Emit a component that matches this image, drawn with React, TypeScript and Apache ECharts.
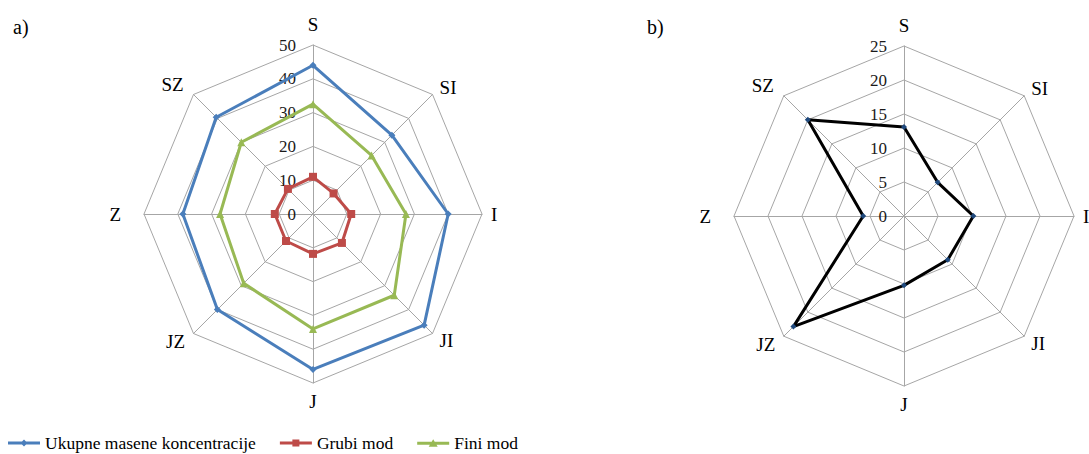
import React, { useEffect, useRef } from "react";
import * as echarts from "echarts";

// Indicators listed counter-clockwise from the top (ECharts radar order)
const directions = ["S", "SZ", "Z", "JZ", "J", "JI", "I", "SI"];
const leftTicksMax = 50;
const rightTicksMax = 25;

// Left chart (a) values, same order as directions
const ukupne = [44, 40.5, 38.5, 40, 46, 46.5, 40, 33];
const grubi = [11, 10.5, 11.3, 11.3, 11.8, 12.1, 11.3, 8.6];
const fini = [32.5, 30, 27.5, 29, 34, 34, 27.5, 24.5];

// Right chart (b) values
const desno = [13.1, 20, 6, 23, 10.2, 9.1, 10.2, 7];

const seriesNames = ["Ukupne masene koncentracije", "Grubi mod", "Fini mod"];

const FONT = "'Liberation Serif', 'Times New Roman', serif";

// name gaps per direction (label placement)
const nameGaps = [11, 14, 23, 12, 9, 10, 9, 10];

export default function App() {
  const ref = useRef<HTMLDivElement>(null);
  useEffect(() => {
    if (!ref.current) return;
    const chart = echarts.init(ref.current, null, { renderer: "svg" });
    const mkIndicators = (max: number) =>
      directions.map((d, i) => ({
        name: d,
        min: 0,
        max,
        nameGap: nameGaps[i],
        axisLabel: { show: i === 0 },
      }));
    const radarCommon = {
      shape: "polygon",
      splitNumber: 5,
      startAngle: 90,
      nameGap: 9,
      axisName: { color: "#000", fontSize: 19, fontFamily: FONT },
      axisLine: { lineStyle: { color: "#a6a6a6", width: 1 } },
      splitLine: { lineStyle: { color: "#a6a6a6", width: 1 } },
      splitArea: { show: false },
      axisTick: { show: false },
      axisLabel: {
        show: false,
        color: "#1a1a1a",
        fontSize: 17,
        fontFamily: FONT,
        margin: 17,
      },
    };
    const lineIcon = (marker: string) => "path://M0,3.6 L32,3.6 L32,6.4 L0,6.4 Z " + marker;
    const diamondM = "M16,1.5 L19.5,5 L16,8.5 L12.5,5 Z";
    const squareM = "M12.5,1.5 L19.5,1.5 L19.5,8.5 L12.5,8.5 Z";
    const triM = "M16,1 L20.5,8.5 L11.5,8.5 Z";
    chart.setOption({
      animation: false,
      textStyle: { fontFamily: FONT },
      title: [
        { text: "a)", left: 8, top: 12, textStyle: { fontSize: 20, fontWeight: "normal", color: "#000", fontFamily: FONT } },
        { text: "b)", left: 642, top: 12, textStyle: { fontSize: 20, fontWeight: "normal", color: "#000", fontFamily: FONT } },
      ],
      legend: {
        left: 3,
        top: 429,
        itemWidth: 32,
        itemHeight: 10,
        itemGap: 24,
        textStyle: { fontSize: 17.5, color: "#000", fontFamily: FONT },
        data: [
          { name: seriesNames[0], icon: lineIcon(diamondM) },
          { name: seriesNames[1], icon: lineIcon(squareM) },
          { name: seriesNames[2], icon: lineIcon(triM) },
        ],
      },
      radar: [
        { ...radarCommon, center: [313, 214], radius: 169, indicator: mkIndicators(leftTicksMax) },
        { ...radarCommon, center: [904, 216], radius: 170, indicator: mkIndicators(rightTicksMax) },
      ],
      series: [
        {
          type: "radar",
          radarIndex: 0,
          data: [
            {
              name: seriesNames[0],
              value: ukupne,
              symbol: "diamond",
              symbolSize: 7,
              lineStyle: { color: "#4a7ebb", width: 3 },
              itemStyle: { color: "#4a7ebb" },
            },
            {
              name: seriesNames[1],
              value: grubi,
              symbol: "rect",
              symbolSize: 8,
              lineStyle: { color: "#be4b48", width: 3 },
              itemStyle: { color: "#be4b48" },
            },
            {
              name: seriesNames[2],
              value: fini,
              symbol: "triangle",
              symbolSize: 8,
              lineStyle: { color: "#98b954", width: 3 },
              itemStyle: { color: "#98b954" },
            },
          ],
        },
        {
          type: "radar",
          radarIndex: 1,
          data: [
            {
              name: "b",
              value: desno,
              symbol: "diamond",
              symbolSize: 6,
              lineStyle: { color: "#000", width: 3 },
              itemStyle: { color: "#1f497d" },
            },
          ],
        },
      ],
    });
    return () => chart.dispose();
  }, []);
  return (
    <div
      ref={ref}
      style={{ position: "absolute", left: 0, top: 0, width: 1089, height: 454, background: "#fff" }}
    />
  );
}
